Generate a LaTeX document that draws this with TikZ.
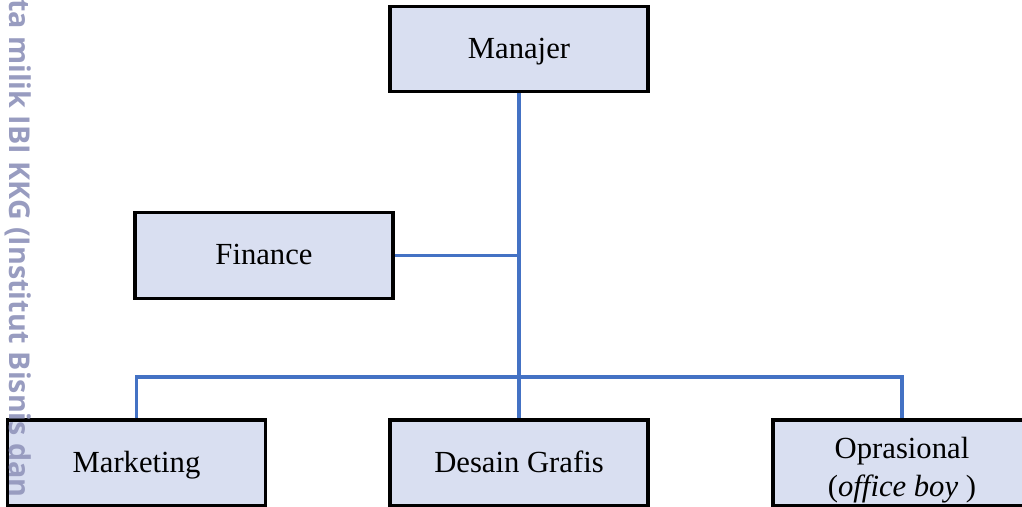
\documentclass[tikz,border=0pt]{standalone}
\usepackage{fontspec}
\setmainfont{Liberation Serif}
\newfontfamily\wmfont{Open Sans}
\definecolor{boxfill}{RGB}{217,223,241}
\definecolor{linkblue}{RGB}{68,114,196}
\definecolor{wmgray}{RGB}{152,156,192}
\tikzset{
  unit/.style={draw=black, line width=2.6pt, fill=boxfill, minimum width=193.5pt,
    minimum height=63.5pt, inner sep=0pt, align=center,
    text height=17.5pt, text depth=4pt,
    font=\fontsize{23}{27}\selectfont},
  unitlabel/.style={inner sep=0pt, align=center,
    font=\fontsize{23}{28.5}\selectfont},
  link/.style={draw=linkblue, line width=2.3pt},
  wm/.style={text=wmgray, font=\wmfont\bfseries\fontsize{21.5}{24}\selectfont, rotate=-90,
    anchor=base west, inner sep=0pt}
}
\begin{document}
\begin{tikzpicture}[x=0.75pt, y=-0.75pt]
\useasboundingbox (0,0) rectangle (1022,507);
\clip (0,0) rectangle (1022,507);
\node[unit] (man) at (519,49) {Manajer};
\node[unit, minimum height=64.5pt] (fin) at (264,255.5) {Finance};
\node[unit, minimum height=64.5pt] (mkt) at (136.5,463) {Marketing};
\node[unit, minimum height=64.5pt] (des) at (519,463) {Desain Grafis};
\node[unit, minimum height=64.5pt] (ops) at (902,463) {};
\node[unitlabel] (opslabel) at ([yshift=-5.5pt]ops.center) {Oprasional\\(\textit{office boy} )};
\coordinate (bus) at (519,377);
\draw[link] (man.south) -- (des.north);
\draw[link] (fin.east) -- (fin.east -| man.south);
\draw[link] (mkt.north) |- (bus) -| (ops.north);
\node[wm] (mark) at (9,36) {\llap{Hak Cipta }milik IBI KKG (Institut Bisnis dan Informatika Kwik Kian Gie)};
\end{tikzpicture}
\end{document}
